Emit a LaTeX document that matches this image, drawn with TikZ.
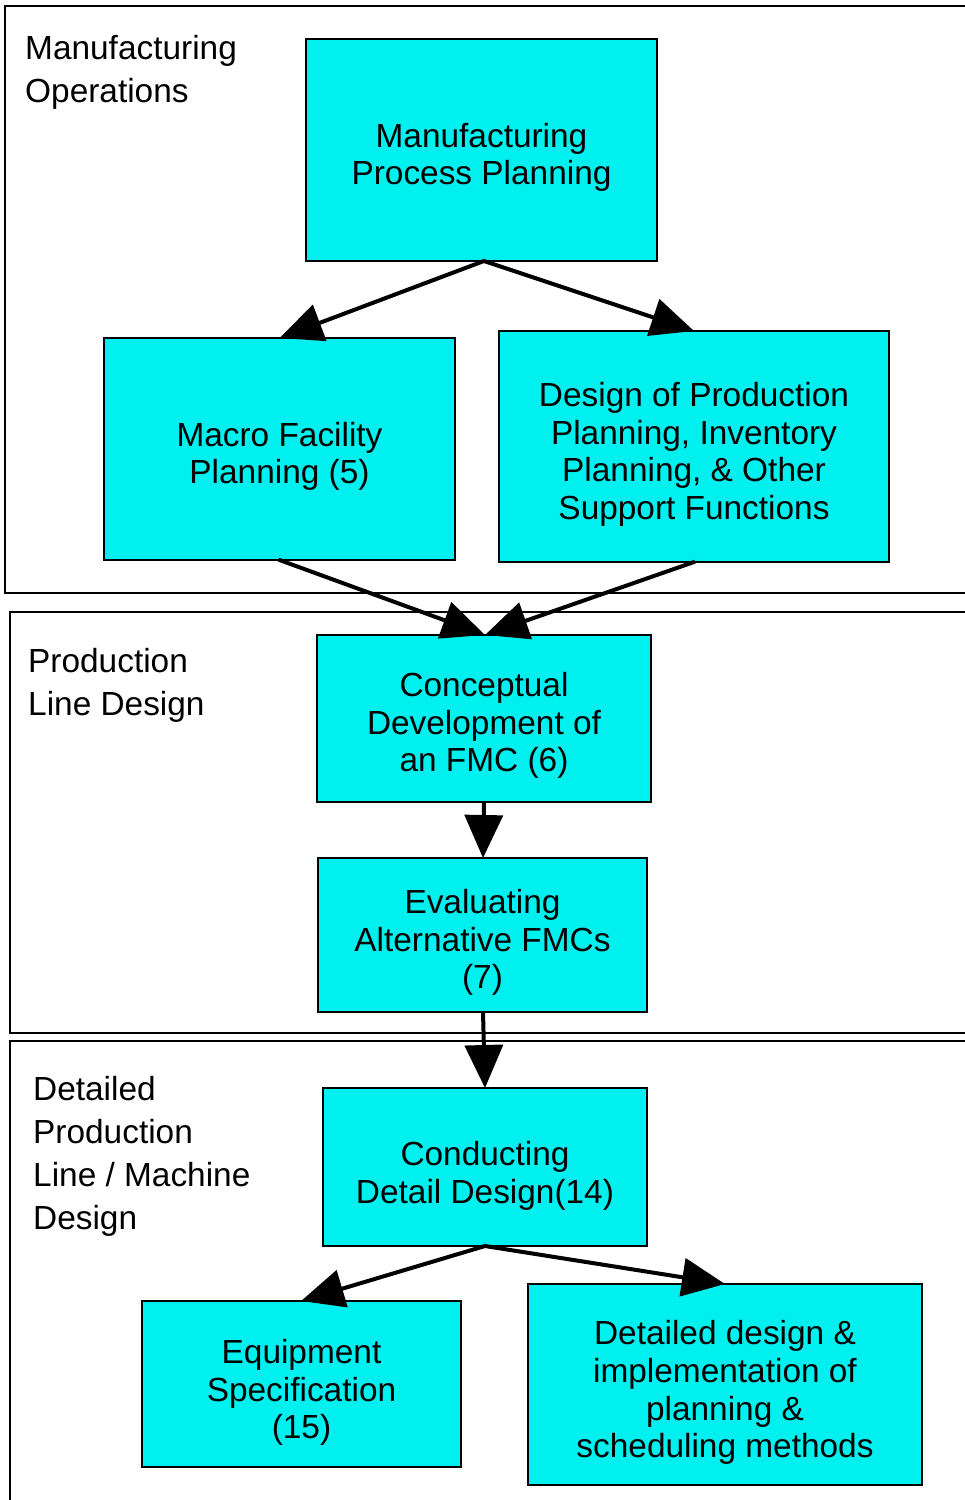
\documentclass[tikz,border=0pt]{standalone}
\usepackage{fontspec}
\setmainfont{Liberation Sans}
\usetikzlibrary{arrows.meta}
\definecolor{boxcyan}{RGB}{0,240,240}
\tikzset{
  boxtext/.style={align=center, font=\fontsize{33.4}{37.7}\selectfont, inner sep=0pt},
  frametext/.style={align=left, font=\fontsize{33.4}{43}\selectfont, inner sep=0pt, anchor=west},
  frame/.style={draw=black, line width=2pt},
  flow/.style={line width=4pt, -{Triangle[length=43pt,width=38pt]}, shorten <=-1pt}
}
\begin{document}
\begin{tikzpicture}[x=1pt,y=-1pt]
\useasboundingbox (0,0) rectangle (965,1500);

% stage frames (running past the right edge)
\draw[frame] (5,6) rectangle (980,593);
\draw[frame] (10,612) rectangle (980,1033);
\draw[frame] (10,1041) rectangle (980,1520);

\node[frametext] (lblops) at (25,72) {Manufacturing\\Operations};
\node[frametext] (lblline) at (28,685) {Production\\Line Design};
\node[frametext] (lbldet) at (33,1156) {Detailed\\Production\\Line / Machine\\Design};

% process boxes
\draw[frame, fill=boxcyan] (306,39) rectangle (657,261);
\coordinate (mppS) at (484,261);
\node[boxtext] (mpp) at (481.5,157.5) {Manufacturing\\Process Planning};

\draw[frame, fill=boxcyan] (104,338) rectangle (455,560);
\coordinate (macN) at (279.5,338);
\coordinate (macS) at (279.5,560);
\node[boxtext] (mac) at (279.5,456.5) {Macro Facility\\Planning (5)};

\draw[frame, fill=boxcyan] (499,331) rectangle (889,562);
\coordinate (desN) at (694,331);
\coordinate (desS) at (694,562);
\node[boxtext] (des) at (694,454.5) {Design of Production\\Planning, Inventory\\Planning, \& Other\\Support Functions};

\draw[frame, fill=boxcyan] (317,635) rectangle (651,802);
\coordinate (conN) at (485,635);
\coordinate (conS) at (484,802);
\node[boxtext] (con) at (484,725.5) {Conceptual\\Development of\\an FMC (6)};

\draw[frame, fill=boxcyan] (318,858) rectangle (647,1012);
\coordinate (evaN) at (483,858);
\coordinate (evaS) at (483,1012);
\node[boxtext] (eva) at (482.5,942.5) {Evaluating\\Alternative FMCs\\(7)};

\draw[frame, fill=boxcyan] (323,1088) rectangle (647,1246);
\coordinate (cdtN) at (485,1088);
\coordinate (cdtS) at (485,1246);
\node[boxtext] (cdt) at (485,1175.5) {Conducting\\Detail Design(14)};

\draw[frame, fill=boxcyan] (142,1301) rectangle (461,1467);
\coordinate (eqpN) at (301,1301);
\node[boxtext] (eqp) at (301.5,1392.5) {Equipment\\Specification\\(15)};

\draw[frame, fill=boxcyan] (528,1284) rectangle (922,1485);
\coordinate (detN) at (725,1284);
\node[boxtext] (det) at (725,1392.5) {Detailed design \&\\implementation of\\planning \&\\scheduling methods};

% flow arrows
\draw[flow] (mppS) -- (macN);
\draw[flow] (mppS) -- (desN);
\draw[flow] (macS) -- (conN);
\draw[flow] (desS) -- (conN);
\draw[flow] (conS) -- (evaN);
\draw[flow] (evaS) -- (cdtN);
\draw[flow] (cdtS) -- (eqpN);
\draw[flow] (cdtS) -- (detN);
\end{tikzpicture}
\end{document}
